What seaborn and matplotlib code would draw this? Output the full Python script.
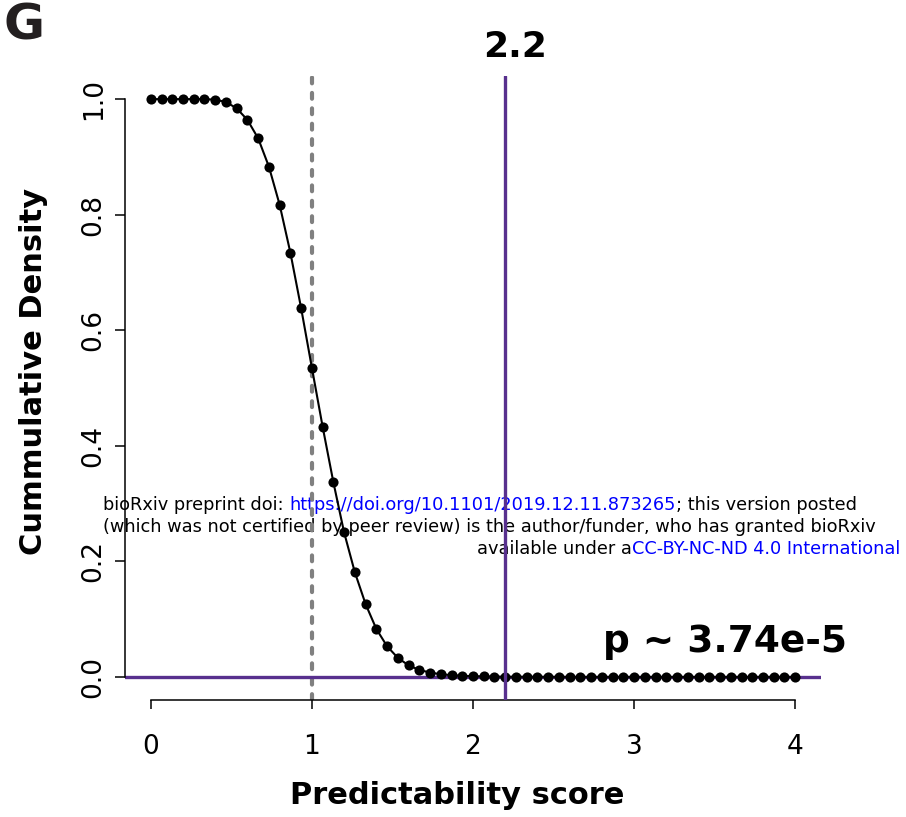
import matplotlib
matplotlib.use("Agg")
import matplotlib.pyplot as plt
import seaborn as sns
import numpy as np
import pandas as pd

# ---------------- data ----------------
n_steps = 15  # points per unit on x axis (x = i/15)
score_index = list(range(61))
cum_density = [
    1.000, 1.000, 1.000, 1.000, 1.000, 1.000, 0.999, 0.995, 0.984, 0.964,
    0.932, 0.883, 0.817, 0.734, 0.638, 0.535, 0.433, 0.337, 0.250, 0.181,
    0.126, 0.083, 0.053, 0.033, 0.020, 0.012, 0.0075, 0.0046, 0.0030, 0.0020,
    0.0012, 0.0008, 0.0005, 0.0003, 0.0002, 0.0002, 0.0001, 0.0001, 0.0001, 0.0,
    0.0, 0.0, 0.0, 0.0, 0.0, 0.0, 0.0, 0.0, 0.0, 0.0,
    0.0, 0.0, 0.0, 0.0, 0.0, 0.0, 0.0, 0.0, 0.0, 0.0,
    0.0,
]
x_ticks = [0, 1, 2, 3, 4]
y_ticks = [0.0, 0.2, 0.4, 0.6, 0.8, 1.0]
y_tick_labels = ["0.0", "0.2", "0.4", "0.6", "0.8", "1.0"]
null_line = 1.0
observed = 2.2
p_label = "p ~ 3.74e-5"
obs_label = "2.2"

df = pd.DataFrame({"score": np.array(score_index) / n_steps, "density": cum_density})

# ---------------- style ----------------
sns.set_theme(style="white")
plt.rcParams["font.family"] = ["DejaVu Sans"]
plt.rcParams["text.color"] = "black"
plt.rcParams["axes.labelcolor"] = "black"

W, H = 906, 817
fig = plt.figure(figsize=(W / 100, H / 100), dpi=100)
ax = fig.add_axes([125 / W, 1 - 700 / H, 696 / W, 624 / H])
ax.patch.set_alpha(0)

purple = "#58308e"

# null reference (dashed grey) and observed (purple)
ax.axvline(null_line, color="#808080", lw=3.0, dashes=(1.4, 2.3),
           dash_capstyle="round", zorder=2)
ax.axhline(0, color=purple, lw=2.4, zorder=2)
ax.axvline(observed, color=purple, lw=2.4, zorder=4)

sns.lineplot(data=df, x="score", y="density", ax=ax, color="black",
             linewidth=1.5, marker="o", markersize=7.3, markeredgewidth=0,
             zorder=3)

ax.set_xlim(-0.16, 4.16)
ax.set_ylim(-0.04, 1.04)
ax.set_xticks(x_ticks)
ax.set_xticklabels([str(t) for t in x_ticks])
ax.set_yticks(y_ticks)
ax.set_yticklabels(y_tick_labels, rotation=90, va="center")
ax.set_xlabel("")
ax.set_ylabel("")

for s in ["top", "right"]:
    ax.spines[s].set_visible(False)
for s in ["left", "bottom"]:
    ax.spines[s].set_color("black")
    ax.spines[s].set_linewidth(1.1)
ax.spines["bottom"].set_bounds(0, 4)
ax.spines["left"].set_bounds(0, 1)

ax.tick_params(axis="x", direction="out", length=6.8, width=1.1, colors="black",
               labelsize=19, pad=18, bottom=True)
ax.tick_params(axis="y", direction="out", length=7.2, width=1.1, colors="black",
               labelsize=19, pad=6, left=True)

# axis labels
fig.text(457 / W, 1 - 804 / H, "Predictability score", fontsize=22,
         fontweight="bold", ha="center", va="baseline", color="black")
fig.text(34 / W, 1 - 371 / H, "Cummulative Density", fontsize=22,
         fontweight="bold", ha="center", va="center", rotation=90, color="black")

# annotations
fig.text(515 / W, 1 - 57 / H, obs_label, fontsize=26, fontweight="bold",
         ha="center", va="baseline", color="black")
fig.text(603 / W, 1 - 652 / H, p_label, fontsize=27, fontweight="bold",
         ha="left", va="baseline", color="black")

# panel letter
fig.text(4 / W, 1 - 40 / H, "G", fontsize=36, fontweight="bold",
         color="#231f20", ha="left", va="baseline")

# bioRxiv watermark (drawn beneath the plot)
def seg_line(x_px, y_px, parts, size=12.8, right=None):
    fig.canvas.draw()
    r = fig.canvas.get_renderer()
    texts = []
    x = x_px
    for txt, col in parts:
        t = fig.text(x / W, 1 - y_px / H, txt, fontsize=size, color=col,
                     ha="left", va="baseline", zorder=-1)
        bb = t.get_window_extent(renderer=r)
        texts.append(t)
        x = bb.x1
    if right is not None and x > right:
        shift = x - right
        for t in texts:
            px, py = t.get_position()
            t.set_position((px - shift / W, py))

seg_line(103, 510, [("bioRxiv preprint doi: ", "black"),
                    ("https://doi.org/10.1101/2019.12.11.873265", "#0000ff"),
                    ("; this version posted", "black")], right=900)
seg_line(103, 532, [("(which was not certified by peer review) is the author/funder, who has granted bioRxiv", "black")], right=900)
seg_line(500, 554, [("available under a", "black"),
                    ("CC-BY-NC-ND 4.0 International", "#0000ff")], right=900)

fig.savefig("out.png", dpi=100)
